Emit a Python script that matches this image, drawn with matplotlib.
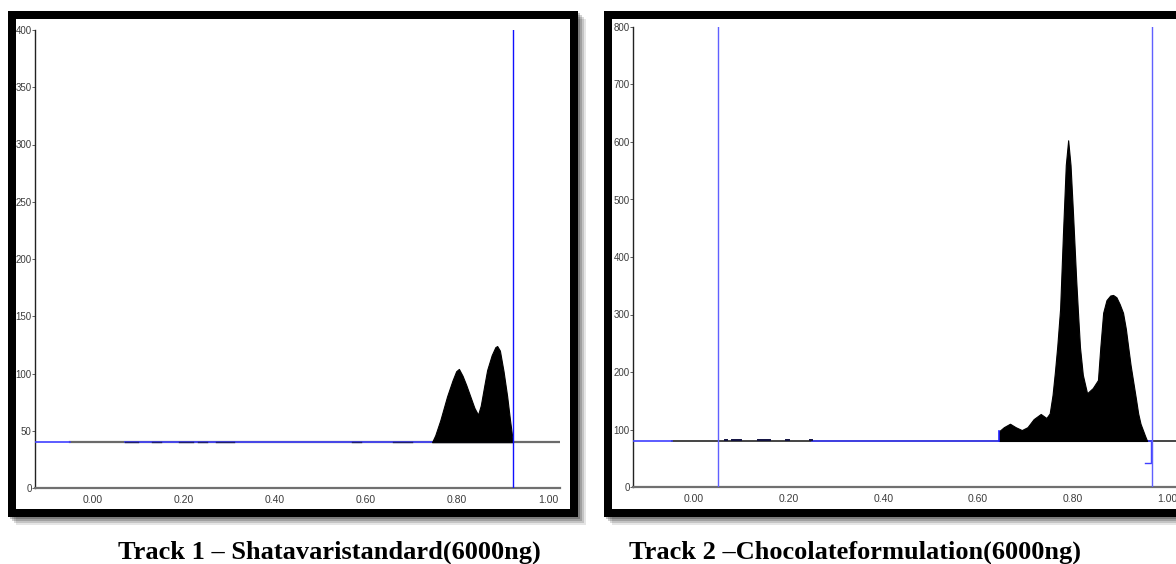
import matplotlib
matplotlib.use("Agg")
import matplotlib.pyplot as plt
from matplotlib.patches import Rectangle

# Track 1 - Shatavari standard
t1_x = [0.745, 0.752, 0.763, 0.778, 0.790, 0.798, 0.804, 0.812, 0.820, 0.829, 0.838, 0.846,
        0.852, 0.860, 0.866, 0.876, 0.884, 0.888, 0.894, 0.902, 0.910, 0.916, 0.920, 0.923]
t1_y = [40, 46, 59, 80, 94, 102, 104, 98, 90, 80, 70, 64,
        72, 90, 103, 116, 123, 124, 120, 102, 80, 60, 48, 40]
t1_base = 40
t1_marker = 0.923
t1_noise = [(0.07, 0.10), (0.13, 0.15), (0.19, 0.22), (0.23, 0.25), (0.27, 0.31), (0.57, 0.59), (0.66, 0.70)]
t1_yticks = [0, 50, 100, 150, 200, 250, 300, 350, 400]

# Track 2 - Chocolate formulation
t2_x = [0.645, 0.645, 0.655, 0.668, 0.680, 0.693, 0.705, 0.718, 0.733, 0.745, 0.752, 0.758,
        0.763, 0.768, 0.774, 0.780, 0.786, 0.791, 0.796, 0.801, 0.808, 0.812, 0.816, 0.822,
        0.831, 0.843, 0.854, 0.859, 0.865, 0.872, 0.880, 0.886, 0.893, 0.900, 0.907, 0.913,
        0.918, 0.923, 0.928, 0.934, 0.939, 0.944, 0.949, 0.954, 0.958]
t2_y = [80, 97, 104, 110, 104, 99, 104, 118, 127, 120, 128, 160,
        200, 245, 310, 440, 560, 603, 560, 480, 360, 300, 243, 195,
        163, 172, 186, 243, 303, 325, 333, 334, 330, 318, 303, 275,
        243, 212, 186, 155, 128, 110, 99, 88, 80]
t2_base = 80
t2_markers = [0.051, 0.968]
t2_noise = [(0.065, 0.07), (0.08, 0.10), (0.135, 0.16), (0.195, 0.20), (0.245, 0.25)]
t2_step_x = [0.954, 0.966, 0.966]
t2_step_y = [42, 42, 80]
t2_yticks = [0, 100, 200, 300, 400, 500, 600, 700, 800]

xticks = [0.0, 0.2, 0.4, 0.6, 0.8, 1.0]

W, H = 1176, 564
fig = plt.figure(figsize=(W / 100, H / 100), dpi=100)
fig.patch.set_facecolor("white")


def box(x0, y0, x1, y1):
    return [x0 / W, 1 - y1 / H, (x1 - x0) / W, (y1 - y0) / H]


def frame(x0, y0, x1, y1):
    # soft shadow
    for i, a in enumerate([0.10, 0.14, 0.18, 0.22]):
        d = 8 - 2 * i
        fig.patches.append(Rectangle(((x0 + d) / W, 1 - (y1 + d) / H), (x1 - x0) / W, (y1 - y0) / H,
                                     transform=fig.transFigure, facecolor="black", alpha=a,
                                     edgecolor="none", zorder=-5))
    fig.patches.append(Rectangle((x0 / W, 1 - y1 / H), (x1 - x0) / W, (y1 - y0) / H,
                                 transform=fig.transFigure, facecolor="black", edgecolor="none", zorder=-4))
    fig.patches.append(Rectangle(((x0 + 8) / W, 1 - (y1 - 8) / H), (x1 - x0 - 16) / W, (y1 - y0 - 16) / H,
                                 transform=fig.transFigure, facecolor="white", edgecolor="none", zorder=-3))


frame(8, 11, 578, 517)
frame(604, 11, 1200, 517)

fam = ["Liberation Sans Narrow", "Liberation Sans", "DejaVu Sans"]
xtick_font = dict(family=fam, size=7.5, color="#3c3c3c")
ytick_font = dict(family=fam, size=7, color="#3c3c3c")


def style(ax, xlim, ylim, yticks):
    ax.set_facecolor("none")
    ax.set_xlim(*xlim)
    ax.set_ylim(*ylim)
    for s in ["top", "right"]:
        ax.spines[s].set_visible(False)
    ax.spines["left"].set_color("#222222")
    ax.spines["left"].set_linewidth(1.0)
    ax.spines["bottom"].set_color("#707070")
    ax.spines["bottom"].set_linewidth(1.6)
    ax.set_xticks(xticks)
    ax.set_xticklabels([f"{v:.2f}" for v in xticks], fontdict=xtick_font)
    ax.set_yticks(yticks)
    ax.set_yticklabels([str(v) for v in yticks], fontdict=ytick_font)
    ax.tick_params(axis="x", length=0, pad=5)
    ax.tick_params(axis="y", length=2, width=0.6, color="#444444", pad=0.5)


# Left panel
ax1 = fig.add_axes(box(35, 30, 560, 488))
style(ax1, (-0.127, 1.026), (0, 400), t1_yticks)
ax1.plot([-0.05, 1.026], [t1_base, t1_base], color="#6a6a6a", lw=1.6, zorder=2)
ax1.plot([-0.127, -0.05], [t1_base, t1_base], color="#4040ff", lw=1.2, zorder=3)
ax1.plot([0.07, t1_marker], [t1_base, t1_base], color="#4040ff", lw=1.2, zorder=3)
for a, b in t1_noise:
    ax1.plot([a, b], [t1_base + 0.5, t1_base + 0.5], color="#202070", lw=1.0, zorder=4)
ax1.fill_between(t1_x, t1_base, t1_y, color="black", lw=0.8, edgecolor="black", zorder=4)
ax1.plot([t1_marker, t1_marker], [0, 400], color="#1010ff", lw=1.0, zorder=5)

# Right panel
ax2 = fig.add_axes(box(633, 27, 1176, 487))
style(ax2, (-0.129, 1.019), (0, 800), t2_yticks)
ax2.plot([-0.047, 1.019], [t2_base, t2_base], color="#444444", lw=1.4, zorder=2)
ax2.plot([-0.129, -0.047], [t2_base, t2_base], color="#4040ff", lw=1.2, zorder=3)
ax2.plot([0.25, t2_markers[1]], [t2_base, t2_base], color="#4040ff", lw=1.2, zorder=3)
for a, b in t2_noise:
    ax2.plot([a, b], [t2_base + 1.5, t2_base + 1.5], color="#101040", lw=1.4, zorder=4)
ax2.fill_between(t2_x, t2_base, t2_y, color="black", lw=0.8, edgecolor="black", zorder=4)
ax2.plot([t2_x[0], t2_x[0]], [t2_base, t2_y[1]], color="#2020ff", lw=1.2, zorder=5)
ax2.plot(t2_step_x, t2_step_y, color="#4040ff", lw=1.0, zorder=5)
for m in t2_markers:
    ax2.plot([m, m], [0, 800], color="#6060ff", lw=1.0, zorder=5)

cap_font = dict(family=["Liberation Serif", "DejaVu Serif"], weight="bold", size=19, color="black")
fig.text(118 / W, 1 - 559 / H, "Track 1 \u2013 Shatavaristandard(6000ng)", ha="left", va="baseline", **cap_font)
fig.text(629 / W, 1 - 559 / H, "Track 2 \u2013Chocolateformulation(6000ng)", ha="left", va="baseline", **cap_font)

fig.savefig("out.png", dpi=100)
